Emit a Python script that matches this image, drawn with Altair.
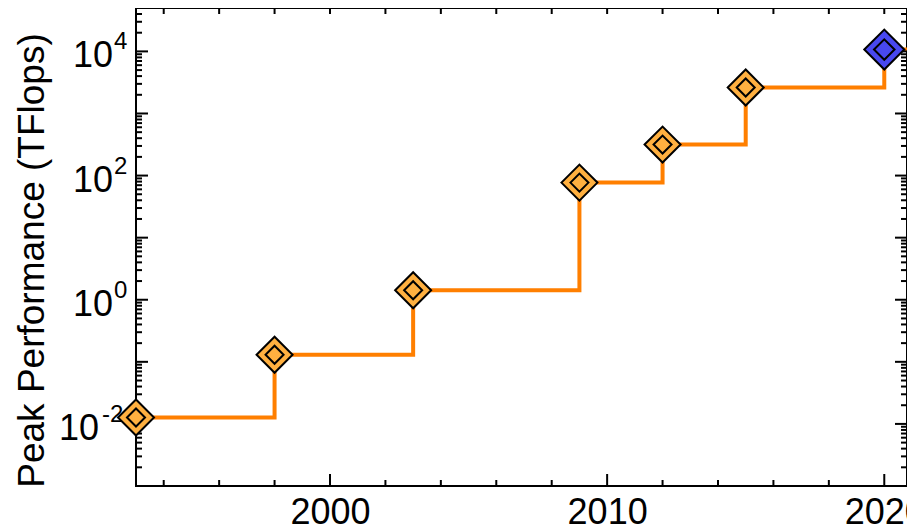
import altair as alt
import pandas as pd

# ---------------- data ----------------
years = [1993, 1998, 2003, 2009, 2012, 2015, 2020]
peak_tflops = [0.0127, 0.130, 1.42, 77, 316, 2620, 10700]
status = ["past", "past", "past", "past", "past", "past", "future"]
line_end_year = 2021  # flat continuation of the step line to the right edge

x_domain = [1993, 2020.82]
y_domain = [1e-3, 5e4]

x_label_years = [2000, 2010, 2020]
x_tick_years = [1994, 1996, 1998, 2000, 2002, 2004, 2006, 2008, 2010,
                2012, 2014, 2016, 2018, 2020]

y_decades = [1e-3, 1e-2, 1e-1, 1e0, 1e1, 1e2, 1e3, 1e4]
y_minor_mult = [2, 3, 4, 5, 6, 7, 8, 9]
y_label_values = [1e-2, 1e0, 1e2, 1e4]
y_label_exps = ["-2", "0", "2", "4"]

# ---------------- frames ----------------
pts = pd.DataFrame({"year": years, "tflops": peak_tflops, "status": status})
line_df = pd.DataFrame({"year": years + [line_end_year],
                        "tflops": peak_tflops + [peak_tflops[-1]]})

xt_major = pd.DataFrame({"year": [y for y in x_tick_years if y in x_label_years]})
xt_minor = pd.DataFrame({"year": [y for y in x_tick_years if y not in x_label_years]})
xt_all = pd.DataFrame({"year": x_tick_years})

yt_major = pd.DataFrame({"v": y_decades})
yt_minor = pd.DataFrame({"v": [d * m for d in y_decades for m in y_minor_mult
                               if d * m <= y_domain[1]]})
ylab = pd.DataFrame({"v": y_label_values, "exp": y_label_exps})

W, H = 771, 478
FONT = "Liberation Sans"
ORANGE_LINE = "#FF7F00"
ORANGE_FILL = "#FFB040"
BLUE_FILL = "#4848F0"

xs = alt.Scale(domain=x_domain, nice=False, zero=False)
ys = alt.Scale(type="log", domain=y_domain, nice=False)

xaxis = alt.Axis(values=x_label_years, format="d", labelFontSize=36, labelFont=FONT,
                 labelColor="black", domain=False, ticks=False, tickSize=0, grid=False,
                 labelPadding=9, labelFlush=False, labelOverlap=False, labelBound=False,
                 title="")
yaxis = alt.Axis(labels=False, ticks=False, domain=False, grid=False,
                 title="Peak Performance (TFlops)", titleFontSize=37, titleFont=FONT,
                 titleFontWeight="normal", titleColor="black", titleAngle=270,
                 titleBaseline="alphabetic", titleAlign="center", titleX=-93, titleY=252)

Y = lambda f: alt.Y(f, scale=ys, axis=yaxis)
X = lambda f: alt.X(f, scale=xs, axis=xaxis)

layers = []

# ---------------- step line ----------------
layers.append(alt.Chart(line_df).mark_line(
    interpolate="step-after", color=ORANGE_LINE, strokeWidth=4, clip=True).encode(
    x=X("year:Q"), y=Y("tflops:Q")))

# ---------------- tick rules (inside the frame) ----------------
tick_style = dict(color="black", strokeWidth=2)
layers.append(alt.Chart(yt_major).mark_rule(**tick_style).encode(
    y=Y("v:Q"), x=alt.value(0), x2=alt.value(12)))
layers.append(alt.Chart(yt_minor).mark_rule(**tick_style).encode(
    y=Y("v:Q"), x=alt.value(0), x2=alt.value(6)))
layers.append(alt.Chart(yt_major).mark_rule(**tick_style).encode(
    y=Y("v:Q"), x=alt.value(W), x2=alt.value(W - 12)))
layers.append(alt.Chart(yt_minor).mark_rule(**tick_style).encode(
    y=Y("v:Q"), x=alt.value(W), x2=alt.value(W - 6)))
layers.append(alt.Chart(xt_major).mark_rule(**tick_style).encode(
    x=X("year:Q"), y=alt.value(H), y2=alt.value(H - 12)))
layers.append(alt.Chart(xt_minor).mark_rule(**tick_style).encode(
    x=X("year:Q"), y=alt.value(H), y2=alt.value(H - 6)))
layers.append(alt.Chart(xt_all).mark_rule(**tick_style).encode(
    x=X("year:Q"), y=alt.value(0), y2=alt.value(6)))

# ---------------- y tick labels 10^n ----------------
txt = dict(font=FONT, color="black", baseline="alphabetic")
layers.append(alt.Chart(ylab).transform_filter("length(datum.exp) == 1").mark_text(
    text="10", align="right", dx=-23, dy=16, fontSize=36, **txt).encode(
    y=Y("v:Q"), x=alt.value(0)))
layers.append(alt.Chart(ylab).transform_filter("length(datum.exp) == 1").mark_text(
    align="left", dx=-22, dy=-2, fontSize=24, **txt).encode(
    y=Y("v:Q"), x=alt.value(0), text="exp:N"))
layers.append(alt.Chart(ylab).transform_filter("length(datum.exp) == 2").mark_text(
    text="10", align="right", dx=-37, dy=16, fontSize=36, **txt).encode(
    y=Y("v:Q"), x=alt.value(0)))
layers.append(alt.Chart(ylab).transform_filter("length(datum.exp) == 2").mark_text(
    align="left", dx=-34, dy=-2, fontSize=24, **txt).encode(
    y=Y("v:Q"), x=alt.value(0), text="exp:N"))

# ---------------- diamond markers ----------------
fill_enc = alt.Fill("status:N", scale=alt.Scale(domain=["past", "future"],
                                                range=[ORANGE_FILL, BLUE_FILL]), legend=None)
for big, small in [(1296, 1600), (324, 420)]:
    layers.append(alt.Chart(pts).mark_point(
        shape="diamond", filled=True, stroke="black", strokeWidth=2, opacity=1).encode(
        x=X("year:Q"), y=Y("tflops:Q"), fill=fill_enc,
        size=alt.condition(alt.datum.status == "future", alt.value(small), alt.value(big))))

chart = alt.layer(*layers).properties(
    width=W, height=H,
    autosize=alt.AutoSizeParams(type="none"),
    padding={"left": 128, "top": 0, "right": 0, "bottom": 46},
    background="white",
).configure_view(stroke="black", strokeWidth=2)

chart.save("out.html", embed_options={"renderer": "svg", "actions": False})
